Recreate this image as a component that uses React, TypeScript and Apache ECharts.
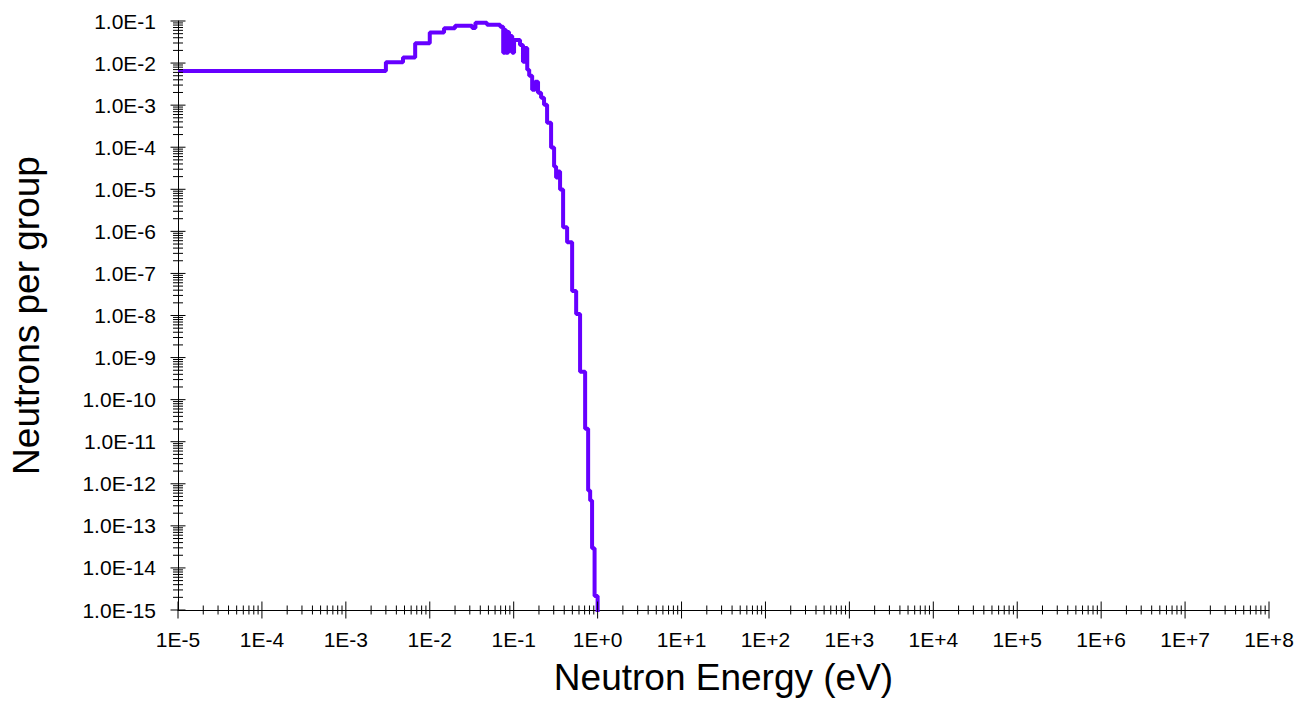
import { useEffect, useRef } from "react";
import * as echarts from "echarts";

// Group boundaries (eV); group i spans energyEdges[i] .. energyEdges[i + 1]
const energyEdges = [
  1e-5, 3.0e-3, 4.8e-3, 6.7e-3, 1.0e-2, 1.48e-2, 2.0e-2, 3.2e-2, 3.5e-2, 4.8e-2,
  6.9e-2, 7.5e-2, 7.9e-2, 8.1e-2, 8.6e-2, 8.8e-2, 9.3e-2, 9.6e-2, 0.101, 0.119,
  0.129, 0.137, 0.145, 0.153, 0.166, 0.18, 0.195, 0.212, 0.23, 0.25,
  0.279, 0.303, 0.32, 0.338, 0.357, 0.388, 0.433, 0.497, 0.555, 0.618,
  0.71, 0.771, 0.815, 0.859, 0.92, 1.0,
];

// Neutrons per group, one value per energy group
const neutronsPerGroup = [
  6.5e-3, 1.05e-2, 1.35e-2, 2.96e-2, 5.3e-2, 6.7e-2, 7.7e-2, 6.8e-2, 9.1e-2, 8.2e-2,
  7.3e-2, 1.75e-2, 6.1e-2, 1.75e-2, 5.5e-2, 2.06e-2, 4.4e-2, 1.75e-2, 3.55e-2, 2.7e-2,
  1.07e-2, 2.29e-2, 6.9e-3, 5.0e-3, 2.32e-3, 3.6e-3, 1.97e-3, 1.5e-3, 1.02e-3, 3.83e-4,
  9.8e-5, 3.48e-5, 1.91e-5, 2.65e-5, 9.9e-6, 1.25e-6, 5.5e-7, 3.8e-8, 1.08e-8, 4.6e-10,
  2.04e-11, 6.95e-13, 4.0e-13, 2.93e-14, 2.14e-15,
];

// Value the spectrum falls to above the last group edge (below the axis floor)
const cutoffValue = 1e-18;

// Axis decades
const xDecades = [-5, -4, -3, -2, -1, 0, 1, 2, 3, 4, 5, 6, 7, 8];
const yDecades = [-15, -14, -13, -12, -11, -10, -9, -8, -7, -6, -5, -4, -3, -2, -1];

const X_MIN = 1e-5;
const X_MAX = 1e8;
const Y_MIN = 1e-15;
const Y_MAX = 1e-1;

const LINE_COLOR = "#6600ff";
const FONT = "'Liberation Sans', Arial, sans-serif";

function decadeTicks(decades: number[]) {
  // [value, isMajor] pairs: decade ticks plus 2..9 subdivisions
  const out: [number, number][] = [];
  decades.forEach((d, i) => {
    out.push([Math.pow(10, d), 1]);
    if (i < decades.length - 1) {
      for (let m = 2; m <= 9; m++) out.push([m * Math.pow(10, d), 0]);
    }
  });
  return out;
}

export default function App() {
  const ref = useRef<HTMLDivElement>(null);

  useEffect(() => {
    if (!ref.current) return;
    const chart = echarts.init(ref.current, undefined, { renderer: "svg" });

    const stepData: [number, number][] = neutronsPerGroup.map((v, i) => [energyEdges[i], v]);
    stepData.push([energyEdges[energyEdges.length - 1], cutoffValue]);

    const xTicks = decadeTicks(xDecades).map(([v, major]) => [v, Y_MIN, major]);
    const yTicks = decadeTicks(yDecades).map(([v, major]) => [X_MIN, v, major]);

    const xLabelValues = xDecades.map((d) => Math.pow(10, d));
    const yLabelValues = yDecades.map((d) => Math.pow(10, d));

    const expOf = (v: number) => Math.round(Math.log10(v));

    chart.setOption({
      animation: false,
      backgroundColor: "#ffffff",
      grid: { left: 178, right: 44, top: 21, bottom: 89, containLabel: false },
      xAxis: {
        type: "log",
        logBase: 10,
        min: X_MIN,
        max: X_MAX,
        name: "Neutron Energy (eV)",
        nameLocation: "middle",
        nameGap: 49,
        nameTextStyle: { fontFamily: FONT, fontSize: 37, color: "#000" },
        axisLine: { show: true, lineStyle: { color: "#000", width: 1 } },
        axisTick: { show: false },
        minorTick: { show: false },
        splitLine: { show: false },
        axisLabel: {
          customValues: xLabelValues,
          margin: 19,
          fontFamily: FONT,
          fontSize: 21,
          color: "#000",
          formatter: (v: number) => {
            const e = expOf(v);
            return `1E${e >= 0 ? "+" : ""}${e}`;
          },
        },
      },
      yAxis: {
        type: "log",
        logBase: 10,
        min: Y_MIN,
        max: Y_MAX,
        name: "Neutrons per group",
        nameLocation: "middle",
        nameGap: 133,
        nameTextStyle: { fontFamily: FONT, fontSize: 37, color: "#000" },
        axisLine: { show: true, lineStyle: { color: "#000", width: 1 } },
        axisTick: { show: false },
        minorTick: { show: false },
        splitLine: { show: false },
        axisLabel: {
          customValues: yLabelValues,
          margin: 22,
          fontFamily: FONT,
          fontSize: 21,
          color: "#000",
          formatter: (v: number) => {
            const e = expOf(v);
            return `1.0E${e >= 0 ? "+" : ""}${e}`;
          },
        },
      },
      series: [
        {
          type: "line",
          data: stepData,
          step: "end",
          showSymbol: false,
          clip: true,
          lineStyle: { color: LINE_COLOR, width: 4 },
          z: 3,
        },
        {
          type: "custom",
          data: xTicks,
          encode: { x: 0, y: 1 },
          clip: false,
          silent: true,
          z: 4,
          renderItem: (_params: any, api: any) => {
            const p = api.coord([api.value(0), api.value(1)]);
            const half = api.value(2) ? 8.5 : 4.5;
            return {
              type: "line",
              shape: { x1: p[0], y1: p[1] - half, x2: p[0], y2: p[1] + half },
              style: { stroke: "#000", lineWidth: 1 },
            };
          },
        },
        {
          type: "custom",
          data: yTicks,
          encode: { x: 0, y: 1 },
          clip: false,
          silent: true,
          z: 4,
          renderItem: (_params: any, api: any) => {
            const p = api.coord([api.value(0), api.value(1)]);
            const half = api.value(2) ? 7.5 : 5;
            return {
              type: "line",
              shape: { x1: p[0] - half, y1: p[1], x2: p[0] + half, y2: p[1] },
              style: { stroke: "#000", lineWidth: 1 },
            };
          },
        },
      ],
    });

    return () => chart.dispose();
  }, []);

  return (
    <div
      ref={ref}
      style={{ position: "absolute", left: 0, top: 0, width: 1313, height: 701, background: "#fff" }}
    />
  );
}
